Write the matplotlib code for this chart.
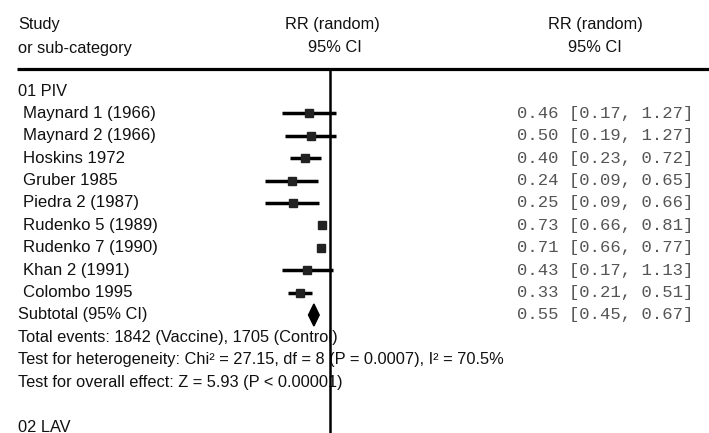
import numpy as np
import matplotlib.pyplot as plt
from matplotlib.patches import Polygon

# forest plot, RR (random) with 95% CI
studies = ['Maynard 1 (1966)', 'Maynard 2 (1966)', 'Hoskins 1972', 'Gruber 1985',
           'Piedra 2 (1987)', 'Rudenko 5 (1989)', 'Rudenko 7 (1990)', 'Khan 2 (1991)',
           'Colombo 1995']
rr = [0.46, 0.50, 0.40, 0.24, 0.25, 0.73, 0.71, 0.43, 0.33]
lo = [0.17, 0.19, 0.23, 0.09, 0.09, 0.66, 0.66, 0.17, 0.21]
hi = [1.27, 1.27, 0.72, 0.65, 0.66, 0.81, 0.77, 1.13, 0.51]
sub_rr, sub_lo, sub_hi = 0.55, 0.45, 0.67
notes = ['Total events: 1842 (Vaccine), 1705 (Control)',
         'Test for heterogeneity: Chi\u00b2 = 27.15, df = 8 (P = 0.0007), I\u00b2 = 70.5%',
         'Test for overall effect: Z = 5.93 (P < 0.00001)']

W, H = 709, 433
fig = plt.figure(figsize=(W / 100, H / 100), dpi=100)

# text layer in pixel coords
ax = fig.add_axes([0, 0, 1, 1])
ax.set_xlim(0, W)
ax.set_ylim(H, 0)
ax.axis('off')

# forest layer, log scale, RR=1 at x=330px, ~62px per decade
x0, k = 330, 62.0
left = x0 - 2 * k
fa = fig.add_axes([left / W, 0, 4 * k / W, 1])
fa.set_xscale('log')
fa.set_xlim(0.01, 100)
fa.set_ylim(H, 0)
fa.axis('off')

sans = 'Liberation Sans'
mono = 'Liberation Mono'
fs = 11.8
txt = '#111111'
grey = '#555555'

def row(i):
    return 91 + 22.4 * i

# header
ax.text(18, 25, 'Study', fontsize=fs, family=sans, color=txt, va='center')
ax.text(18, 48, 'or sub-category', fontsize=fs, family=sans, color=txt, va='center')
ax.text(332, 25, 'RR (random)', fontsize=fs, family=sans, color=txt, va='center', ha='center')
ax.text(335, 48, '95% CI', fontsize=fs, family=sans, color=txt, va='center', ha='center')
ax.text(595, 25, 'RR (random)', fontsize=fs, family=sans, color=txt, va='center', ha='center')
ax.text(595, 48, '95% CI', fontsize=fs, family=sans, color=txt, va='center', ha='center')
ax.plot([17, W], [69, 69], color='black', lw=2.3, solid_capstyle='butt')

ax.text(18, row(0), '01 PIV', fontsize=fs, family=sans, color=txt, va='center')

for i, name in enumerate(studies):
    y = row(i + 1)
    ax.text(23, y, name, fontsize=12.1, family=sans, color=txt, va='center')
    fa.plot([lo[i], hi[i]], [y, y], color='black', lw=2.5, solid_capstyle='butt')
    fa.plot(rr[i], y, marker='s', ms=6.3, color='#222222', mec='#222222')
    ax.text(517, y, f'{rr[i]:.2f} [{lo[i]:.2f}, {hi[i]:.2f}]', fontsize=12.4,
            family=mono, color=grey, va='center')

ys = row(10)
ax.text(18, ys, 'Subtotal (95% CI)', fontsize=fs, family=sans, color=txt, va='center')
fa.add_patch(Polygon([(sub_lo, ys), (sub_rr, ys - 11), (sub_hi, ys), (sub_rr, ys + 11)],
                     closed=True, color='black'))
ax.text(517, ys, f'{sub_rr:.2f} [{sub_lo:.2f}, {sub_hi:.2f}]', fontsize=12.4,
        family=mono, color=grey, va='center')

for j, s in enumerate(notes):
    ax.text(18, row(11 + j), s, fontsize=fs, family=sans, color=txt, va='center')

ax.text(18, row(15), '02 LAV', fontsize=fs, family=sans, color=txt, va='center')

# line of no effect
fa.plot([1, 1], [69, H], color='black', lw=1.8)

fig.savefig('out.png', dpi=100)
